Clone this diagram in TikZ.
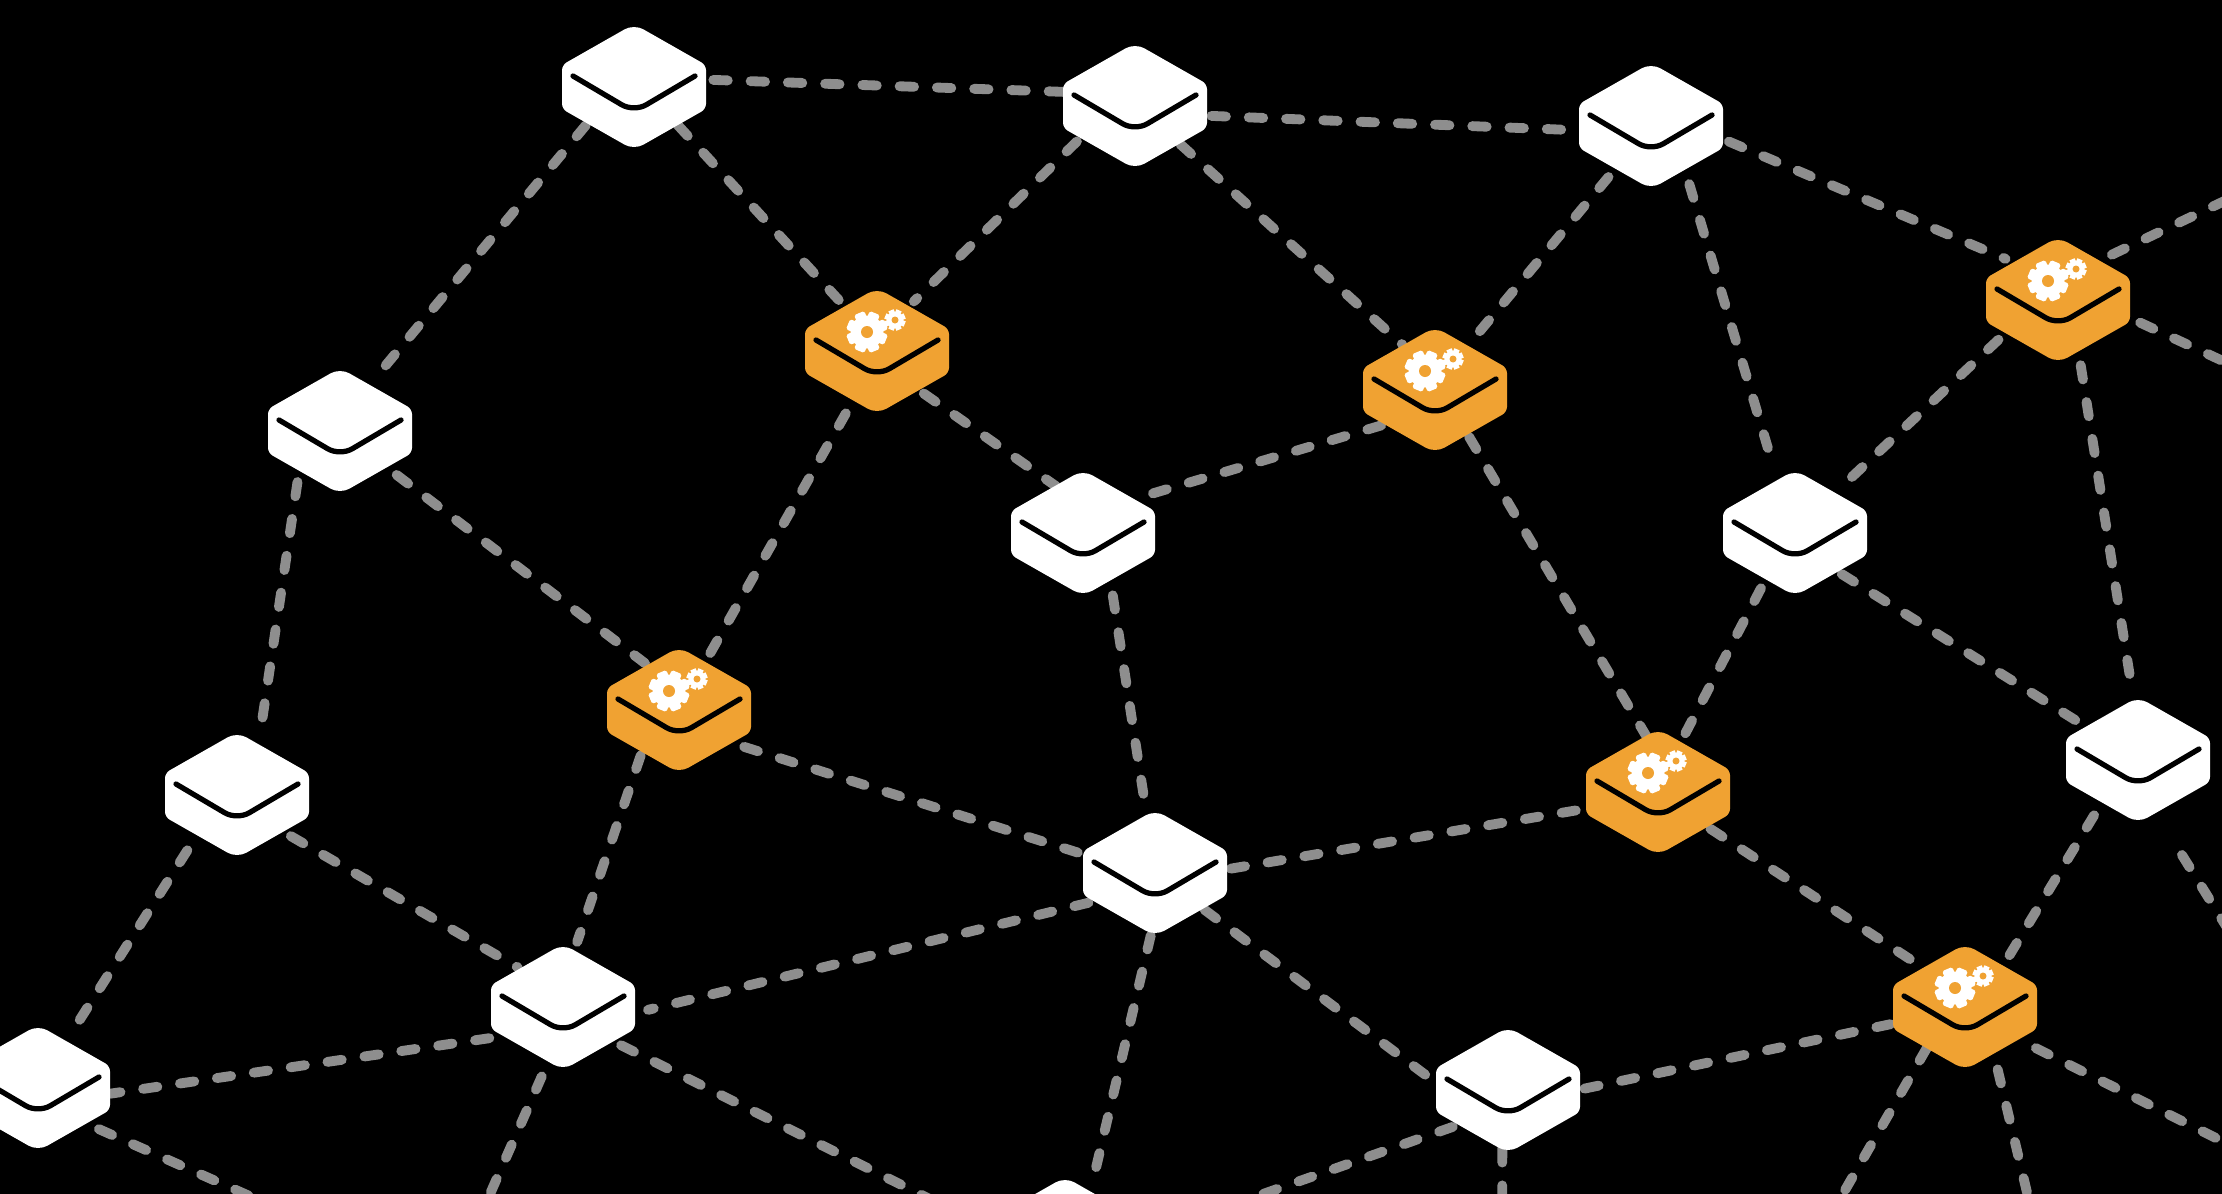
\documentclass[tikz,border=0pt]{standalone}
\definecolor{nodeorange}{HTML}{F0A232}
\definecolor{edgegray}{HTML}{8E8E8E}
\tikzset{
  link/.style={draw=edgegray,line width=2.8pt,line cap=round,dash pattern=on 4.1pt off 6.5pt},
  vmark/.style={draw=black,line width=1.5pt,line cap=round,rounded corners=4pt},
}
\newcommand{\blockbase}[3]{%
  \begin{scope}[shift={(#1)}]
    \fill[#2] (0,-63) [rounded corners=1.5pt] -- (72,-22) -- (72,22) [rounded corners=3pt] -- (0,63) [rounded corners=1.5pt] -- (-72,22) -- (-72,-22) [rounded corners=3pt] -- cycle;
    \draw[vmark] (-61,-11) -- (0,25) -- (61,-11);
    #3
  \end{scope}}
\newcommand{\cogs}{%
  \begin{scope}[shift={(-10,-19)}]
    \fill[white] (0,0) circle (16.5);
    \foreach \a in {0,45,...,135} {\fill[white,rotate=\a+22.5,rounded corners=0.5pt] (-5.5,-20.5) rectangle (5.5,20.5);}
    \fill[nodeorange] (0,0) circle (6);
  \end{scope}
  \begin{scope}[shift={(18,-31)}]
    \fill[white] (0,0) circle (8.5);
    \foreach \a in {0,45,...,135} {\fill[white,rotate=\a+22.5] (-2.8,-10.5) rectangle (2.8,10.5);}
    \fill[nodeorange] (0,0) circle (3.5);
  \end{scope}}
\newcommand{\plainblock}[1]{\blockbase{#1}{white}{}\node[inner sep=0pt,minimum size=0pt] (n#1) at (#1) {};}
\newcommand{\gearblock}[1]{\blockbase{#1}{nodeorange}{\cogs}\node[inner sep=0pt,minimum size=0pt] (n#1) at (#1) {};}
\begin{document}
\begin{tikzpicture}[x=0.01cm,y=-0.01cm]
\useasboundingbox (0,0) rectangle (2222,1193.5);
\fill[black] (-5,-5) rectangle (2227,1199);
\coordinate (A) at (634,87);
\coordinate (B) at (1135,106);
\coordinate (C) at (1651,126);
\coordinate (D) at (2058,300);
\coordinate (E) at (877,351);
\coordinate (F) at (1435,390);
\coordinate (G) at (340,431);
\coordinate (H) at (1083,533);
\coordinate (I) at (1795,533);
\coordinate (J) at (679,710);
\coordinate (K) at (2138,760);
\coordinate (L) at (1658,792);
\coordinate (M) at (237,795);
\coordinate (N) at (1155,873);
\coordinate (O) at (563,1007);
\coordinate (P) at (1965,1007);
\coordinate (Q) at (1508,1090);
\coordinate (R) at (38,1088);
\coordinate (S) at (1065,1240);
\coordinate (x1) at (2281,174);
\coordinate (x2) at (2281,388);
\coordinate (x3) at (2267,992);
\coordinate (x4) at (468,1244);
\coordinate (x5) at (1020,1244);
\coordinate (x6) at (1502,1247);
\coordinate (x7) at (1814,1244);
\coordinate (x8) at (2040,1247);
\coordinate (x9) at (2324,1192);
\coordinate (x10) at (326,1230);
\begin{scope}
\clip (0,0) rectangle (2222,1194);
\foreach \u/\ux/\uy/\v/\vx/\vy in {
 A/56/-5/B/-51/-10, B/54/7/C/-52/3, C/55/11/D/-37/-29, D/38/-32/x1/0/0, D/58/16/x2/0/0,
 A/-34/27/G/22/-34, A/31/27/E/-27/-36, B/-41/25/E/26/-35, B/32/27/F/-23/-32,
 C/-30/36/F/22/-30, C/27/41/I/-15/-46, D/-42/28/I/31/-31, D/16/46/K/-4/-48,
 E/33/30/H/-19/-33, E/-22/44/J/18/-33, F/-38/25/H/36/-24, F/24/33/L/-8/-39,
 G/40/31/J/-24/-33, G/-30/36/M/16/-41, H/21/44/N/-7/-48, I/33/29/K/-44/-28,
 I/-24/39/L/17/-37, J/46/26/N/-50/-13, J/-27/32/O/10/-46, L/-58/13/N/53/-3,
 L/37/26/P/-27/-26, K/-31/39/P/28/-31, K/31/67/x3/0/0, N/-47/21/O/60/2,
 N/35/26/Q/-56/-9, N/-3/44/S/20/-43, M/38/29/O/-32/-28, M/-35/39/R/23/-38,
 O/-52/22/R/51/4, O/41/27/x5/0/0, O/-15/49/x4/0/0, R/43/29/x10/0/0,
 Q/54/-1/P/-52/12, Q/-39/26/S/48/0, Q/-4/41/x6/0/0, P/-27/29/x7/0/0,
 P/23/44/x8/0/0, P/50/29/x9/0/0}
  {\draw[link] ([shift={(1.417*\ux,1.417*\uy)}]\u) -- ([shift={(1.417*\vx,1.417*\vy)}]\v);}
\foreach \n in {A,B,C,G,H,I,K,M,N,O,Q,R,S} {\plainblock{\n}}
\foreach \n in {D,E,F,J,L,P} {\gearblock{\n}}
\end{scope}
\end{tikzpicture}
\end{document}
